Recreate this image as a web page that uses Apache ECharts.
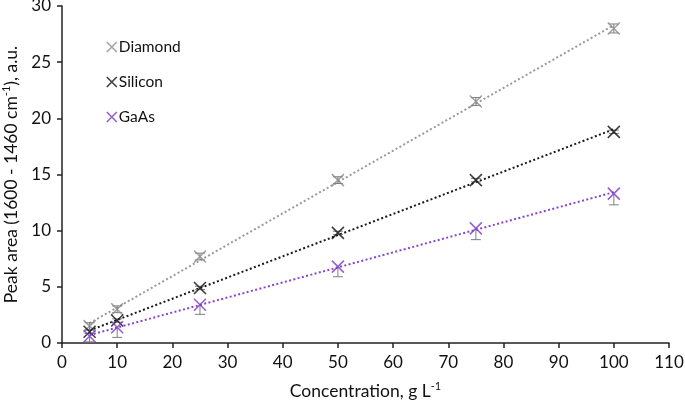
<!DOCTYPE html>
<html><head><meta charset="utf-8">
<script src="https://cdn.jsdelivr.net/npm/echarts@6/dist/echarts.min.js"></script>
<style>html,body{margin:0;padding:0;background:#fff}#c{width:685px;height:402px}</style>
</head><body><div id="c"></div>
<script>
const concentrations = [5, 10, 25, 50, 75, 100];
const diamond = [1.5, 3.0, 7.7, 14.5, 21.5, 28.0];
const silicon = [1.0, 2.0, 4.9, 9.8, 14.5, 18.8];
const gaas = [0.6, 1.4, 3.4, 6.8, 10.2, 13.3];
const diamondErrUp = [0.3, 0.3, 0.3, 0.3, 0.35, 0.4];
const diamondErrDown = [0.3, 0.3, 0.3, 0.3, 0.35, 0.4];
const siliconErrUp = [0.15, 0.15, 0.15, 0.15, 0.15, 0.15];
const siliconErrDown = [0.15, 0.15, 0.15, 0.15, 0.15, 0.15];
const gaasErrUp = [0, 0, 0, 0, 0, 0];
const gaasErrDown = [0.5, 0.9, 0.85, 0.9, 1.0, 1.0];
const xTicks = [0, 10, 20, 30, 40, 50, 60, 70, 80, 90, 100, 110];
const yTicks = [0, 5, 10, 15, 20, 25, 30];
const names = ['Diamond', 'Silicon', 'GaAs'];
const colors = ['#8c8c8c', '#111111', '#7a3cc0'];
const lineColors = ['#9a9a9a', '#1a1a1a', '#8a45d0'];

function fit(xs, ys) {
  const n = xs.length;
  const mx = xs.reduce((a, b) => a + b, 0) / n;
  const my = ys.reduce((a, b) => a + b, 0) / n;
  let sxy = 0, sxx = 0;
  for (let i = 0; i < n; i++) { sxy += (xs[i] - mx) * (ys[i] - my); sxx += (xs[i] - mx) ** 2; }
  const b = sxy / sxx, a = my - b * mx;
  const x0 = xs[0], x1 = xs[n - 1];
  return [[x0, a + b * x0], [x1, a + b * x1]];
}

const cross = 'path://M0,0L10,10M10,0L0,10';
const allY = [diamond, silicon, gaas];
const errs = [[diamondErrUp, diamondErrDown], [siliconErrUp, siliconErrDown], [gaasErrUp, gaasErrDown]];
const series = [];
allY.forEach((ys, k) => {
  series.push({
    type: 'line', data: fit(concentrations, ys), showSymbol: false, silent: true,
    lineStyle: { color: lineColors[k], width: 2, type: [2, 2.4] }, z: 1
  });
});
allY.forEach((ys, k) => {
  const data = concentrations.map((x, i) => [x, ys[i] - errs[k][1][i], ys[i] + errs[k][0][i]]);
  series.push({
    type: 'custom', silent: true, z: 2,
    data: data,
    renderItem: function (params, api) {
      const x = api.value(0);
      const lo = api.coord([x, api.value(1)]);
      const hi = api.coord([x, api.value(2)]);
      const w = 5;
      const ch = [{ type: 'line', shape: { x1: lo[0], y1: lo[1], x2: hi[0], y2: hi[1] }, style: { stroke: '#7f7f7f', lineWidth: 1 } }];
      if (api.value(1) !== api.value(2)) {
        ch.push({ type: 'line', shape: { x1: lo[0] - w, y1: lo[1], x2: lo[0] + w, y2: lo[1] }, style: { stroke: '#7f7f7f', lineWidth: 1 } });
        if (api.value(2) > ys[params.dataIndex] + 1e-9)
          ch.push({ type: 'line', shape: { x1: hi[0] - w, y1: hi[1], x2: hi[0] + w, y2: hi[1] }, style: { stroke: '#7f7f7f', lineWidth: 1 } });
      }
      return { type: 'group', children: ch };
    },
    encode: { x: 0, y: [1, 2] }
  });
});
allY.forEach((ys, k) => {
  series.push({
    name: names[k], type: 'scatter', symbol: cross, symbolSize: 12, z: 3,
    data: concentrations.map((x, i) => [x, ys[i]]),
    itemStyle: { color: 'transparent', borderColor: colors[k], borderWidth: 1.6 }
  });
});

const chart = echarts.init(document.getElementById('c'), null, { renderer: 'canvas' });
const font = 'Lato, "Open Sans", sans-serif';
chart.setOption({
  animation: false,
  textStyle: { fontFamily: font },
  grid: { left: 62, right: 16, top: 6, bottom: 59, containLabel: false, outerBoundsMode: 'none' },
  legend: {
    orient: 'vertical', left: 101, top: 34, itemGap: 19, itemWidth: 10, itemHeight: 10,
    data: names.map((n, k) => ({ name: n, icon: cross, itemStyle: { color: 'transparent', borderColor: colors[k], borderWidth: 1.6 } })),
    textStyle: { fontSize: 15.5, color: '#111', fontFamily: font, padding: [0, 0, 0, -3] }
  },
  xAxis: {
    type: 'value', min: 0, max: 110, interval: 10,
    axisLine: { lineStyle: { color: '#222', width: 1.5 } },
    axisTick: { show: true, length: 5, lineStyle: { color: '#222', width: 1.5 } },
    axisLabel: { fontSize: 17, color: '#111', margin: 11, fontFamily: font },
    splitLine: { show: false },
    name: '{t|Concentration, g L}{s|-1}', nameLocation: 'middle', nameGap: 38,
    nameTextStyle: { rich: { t: { fontSize: 17.5, color: '#111', fontFamily: font }, s: { fontSize: 11, color: '#111', verticalAlign: 'top', fontFamily: font, padding: [0, 0, 9, 0] } } }
  },
  yAxis: {
    type: 'value', min: 0, max: 30, interval: 5,
    axisLine: { show: true, lineStyle: { color: '#222', width: 1.5 } },
    axisTick: { show: true, length: 5, lineStyle: { color: '#222', width: 1.5 } },
    axisLabel: { fontSize: 17, color: '#111', margin: 11, fontFamily: font },
    splitLine: { show: false },
    name: '{t|Peak area (1600 - 1460 cm}{s|-1}{t|), a.u.}', nameLocation: 'middle', nameGap: 40,
    nameTextStyle: { rich: { t: { fontSize: 17.5, color: '#111', fontFamily: font }, s: { fontSize: 11, color: '#111', verticalAlign: 'top', fontFamily: font, padding: [0, 0, 9, 0] } } }
  },
  series: series
});
</script></body></html>
